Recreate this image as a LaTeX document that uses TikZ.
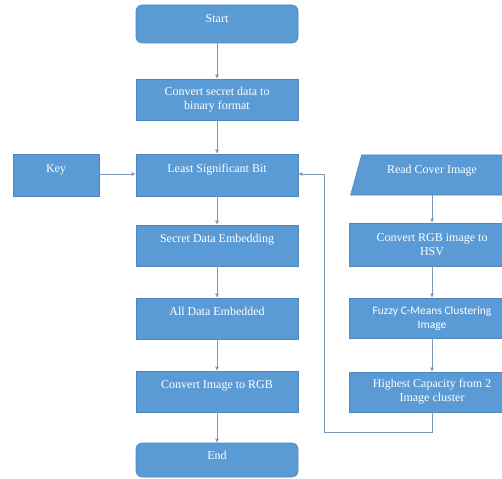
\documentclass[tikz,border=0pt]{standalone}
\usepackage{fontspec}
\setmainfont{Liberation Serif}
\newfontfamily\calibri{Carlito}
\usepackage{tikz}
\usetikzlibrary{arrows.meta,shapes.geometric,positioning}
\definecolor{boxblue}{HTML}{5B9BD5}
\definecolor{boxedge}{HTML}{4F86BF}
\definecolor{linkgray}{HTML}{7F98B8}
\tikzset{
  stepbox/.style={draw=boxedge,line width=0.6pt,fill=boxblue,text=white,align=center,
    font=\fontsize{12}{14}\selectfont,inner sep=2pt},
  leftbox/.style={stepbox,minimum width=162,minimum height=41},
  rightbox/.style={stepbox,minimum width=166,minimum height=41},
  endbox/.style={leftbox,rounded corners=6pt},
  single/.style={text height=9pt,text depth=15pt},
  link/.style={draw=linkgray,line width=0.6pt,-{Latex[length=4pt,width=4pt]}}
}
\begin{document}
\begin{tikzpicture}[x=1pt,y=-1pt]
    \useasboundingbox (0,0) rectangle (502,478);
    \clip (0,0) rectangle (502,478);

    % left column
    \node[endbox,minimum height=38,text height=9pt,text depth=11pt] (start) at (217,24) {Start};
    \node[leftbox] (secret) at (217,99.5) {Convert secret data to\\binary format};
    \node[leftbox,minimum height=42,single] (lsb) at (217,175) {Least Significant Bit};
    \node[leftbox,single] (embed) at (217,245.5) {Secret Data Embedding};
    \node[leftbox,single] (alldata) at (217,318.5) {All Data Embedded};
    \node[leftbox,single] (torgb) at (217,391.5) {Convert Image to RGB};
    \node[endbox,minimum height=34,text height=9pt,text depth=11pt] (finish) at (217,460) {End};

    \node[stepbox,minimum width=86,minimum height=42,single] (key) at (56,175) {Key};

    % right column
    \node[stepbox,shape=trapezium,trapezium left angle=73,trapezium right angle=90,
      trapezium stretches=true,minimum width=152,minimum height=40,
      text height=9pt,text depth=11pt] (cover) at (432,175) {Read Cover Image};
    \node[rightbox,minimum height=43] (hsv) at (432,244.5) {Convert RGB image to\\HSV};
    \node[rightbox,minimum height=40,font=\calibri\fontsize{11.5}{14}\selectfont] (fuzzy) at (432,318) {Fuzzy C-Means Clustering\\Image};
    \node[rightbox,minimum height=40] (highest) at (432,392) {Highest Capacity from 2\\Image cluster};

    \coordinate (turn1) at (432,432);
    \coordinate (turn2) at (324,432);
    \coordinate (turn3) at (324,174);

    \draw[link] (start) -- (secret);
    \draw[link] (secret) -- (lsb);
    \draw[link] (lsb) -- (embed);
    \draw[link] (embed) -- (alldata);
    \draw[link] (alldata) -- (torgb);
    \draw[link] (torgb) -- (finish);
    \draw[link] (key.east |- 0,174) -- (lsb.west |- 0,174);

    \draw[link] (cover.south -| hsv.north) -- (hsv);
    \draw[link] (hsv) -- (fuzzy);
    \draw[link] (fuzzy) -- (highest);
    \draw[link] (highest.south) -- (turn1) -- (turn2) -- (turn3) -- (lsb.east |- turn3);
  \end{tikzpicture}
\end{document}
